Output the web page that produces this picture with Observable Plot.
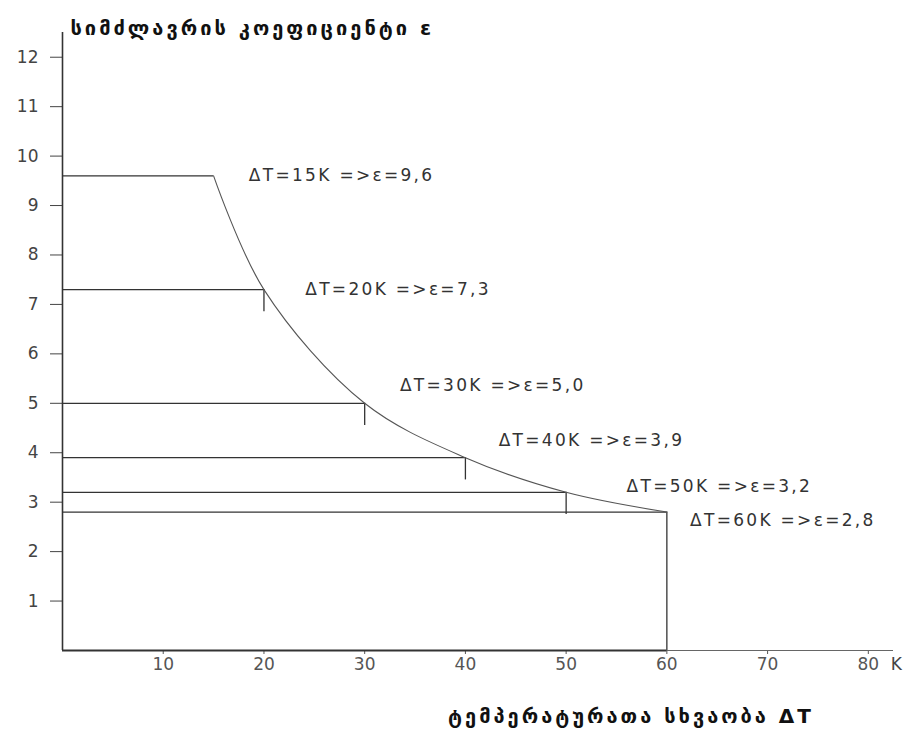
<!DOCTYPE html>
<html>
<head>
<meta charset="utf-8">
<script src="https://cdn.jsdelivr.net/npm/d3@7"></script>
<script src="https://cdn.jsdelivr.net/npm/@observablehq/plot@0.6"></script>
<style>
  html, body { margin: 0; padding: 0; background: #fff; }
  #chart { width: 917px; height: 744px; }
</style>
</head>
<body>
<div id="chart"></div>
<script>
// Temperature difference ΔT (K) and coefficient of performance ε
const deltaT = [15, 20, 30, 40, 50, 60];
const epsilon = [9.6, 7.3, 5.0, 3.9, 3.2, 2.8];
const labels = [
  "ΔT=15K =>ε=9,6",
  "ΔT=20K =>ε=7,3",
  "ΔT=30K =>ε=5,0",
  "ΔT=40K =>ε=3,9",
  "ΔT=50K =>ε=3,2",
  "ΔT=60K =>ε=2,8"
];
// label anchor points in data units
const labelX = [18.5, 24.1, 33.5, 43.3, 56.0, 62.3];
const labelY = [9.6, 7.3, 5.36, 4.25, 3.32, 2.63];
const hasTick = [false, true, true, true, true, false];

const xTicks = [10, 20, 30, 40, 50, 60, 70, 80];
const yTicks = [1, 2, 3, 4, 5, 6, 7, 8, 9, 10, 11, 12];
const yTitle = "სიმძლავრის კოეფიციენტი ε";
const xTitle = "ტემპერატურათა სხვაობა ΔT";
const xUnit = "K";

const data = deltaT.map((t, i) => ({
  dt: t, eps: epsilon[i], label: labels[i], lx: labelX[i], ly: labelY[i], tick: hasTick[i]
}));
const last = data[data.length - 1];

const ink = "#333";
const font = "'DejaVu Sans', sans-serif";

const chart = Plot.plot({
  width: 917,
  height: 744,
  marginLeft: 62,
  marginRight: 24,
  marginTop: 32,
  marginBottom: 94,
  style: { fontFamily: font, background: "#fff", color: ink },
  x: { domain: [0, 82.5] },
  y: { domain: [0, 12.5] },
  marks: [
    Plot.axisY(yTicks, { tickSize: 12, tickPadding: 12, fontSize: 17, color: "#444", strokeWidth: 1 }),
    Plot.axisX(xTicks, { tickSize: 4, tickPadding: 3, fontSize: 17, color: "#555", strokeWidth: 1 }),
    Plot.text([xUnit], { x: 80, frameAnchor: "bottom", dx: 28, dy: 7, lineAnchor: "top", fontSize: 17, fill: "#444" }),
    // axis lines
    Plot.ruleX([0], { y1: 0, y2: 12.5, stroke: ink, strokeWidth: 1.6 }),
    Plot.ruleY([0], { x1: 0, x2: 82.5, stroke: "#666", strokeWidth: 1 }),
    Plot.ruleY([0], { x1: 0, x2: last.dt, stroke: ink, strokeWidth: 2 }),
    // horizontal levels
    Plot.ruleY(data, { y: "eps", x1: 0, x2: "dt", stroke: ink, strokeWidth: 1.3 }),
    // vertical line at ΔT = 60
    Plot.ruleX([last], { x: "dt", y1: 0, y2: "eps", stroke: ink, strokeWidth: 1.3 }),
    // small vertical markers under intersections
    Plot.ruleX(data.filter(d => d.tick), { x: "dt", y1: "eps", y2: d => d.eps - 0.45, stroke: ink, strokeWidth: 1.3 }),
    // curve
    Plot.line(data, { x: "dt", y: "eps", curve: "catmull-rom", stroke: "#555", strokeWidth: 1.1 }),
    // annotations
    Plot.text(data, { x: "lx", y: "ly", text: "label", textAnchor: "start", fontSize: 17, fill: "#333" }),
    // titles
    Plot.text([yTitle], { frameAnchor: "top-left", dx: 8, dy: -12, textAnchor: "start", fontSize: 20, fontWeight: "bold", fill: "#111" }),
    Plot.text([xTitle], { frameAnchor: "bottom", dx: 153, dy: 72, fontSize: 20, fontWeight: "bold", fill: "#111" })
  ]
});

// spacing to match the wide lettering of the original
d3.select(chart).selectAll("text")
  .filter(function () { return labels.includes(this.textContent); })
  .style("letter-spacing", "2.3px");
d3.select(chart).selectAll("text")
  .filter(function () { return this.textContent === yTitle || this.textContent === xTitle; })
  .style("letter-spacing", "3px");

document.getElementById("chart").appendChild(chart);
</script>
</body>
</html>
